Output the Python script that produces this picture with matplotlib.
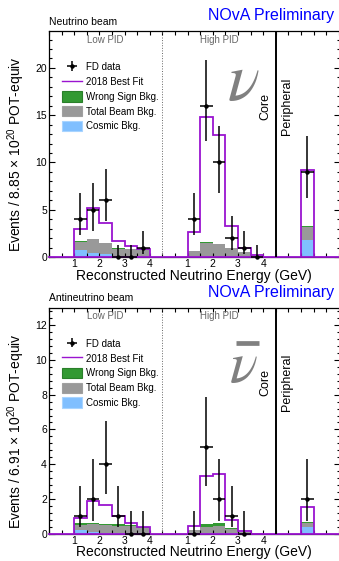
import numpy as np
import matplotlib
matplotlib.use("Agg")
import matplotlib.pyplot as plt
from matplotlib.lines import Line2D
from matplotlib.patches import Patch
from matplotlib.ticker import MultipleLocator

plt.rcParams['font.family'] = ['Liberation Sans', 'DejaVu Sans']
plt.rcParams['mathtext.fontset'] = 'custom'
plt.rcParams['mathtext.rm'] = 'Liberation Sans'
plt.rcParams['mathtext.it'] = 'Liberation Sans:italic'

# reconstructed energy bins (GeV), same for low and high PID
energy_edges = np.array([1.0, 1.5, 2.0, 2.5, 3.0, 3.5, 4.0])
tick_energies = [1, 2, 3, 4]
periph_edges = np.array([10.0, 10.5])

# ---- neutrino beam ----
nu_low_fit = [3.0, 5.2, 3.6, 1.65, 1.12, 0.86]
nu_low_data = [4, 5, 6, 0, 0, 1]
nu_low_up = [6.8, 7.8, 9.3, 1.3, 1.3, 2.8]
nu_low_dn = [2.3, 2.7, 3.8, 0.0, 0.0, 0.35]
nu_low_cos = [0.70, 0.42, 0.32, 0.05, 0.03, 0.02]
nu_low_beam = [0.89, 1.45, 1.13, 0.83, 0.77, 0.76]
nu_low_ws = [0.05, 0.05, 0.04, 0.04, 0.03, 0.03]

nu_high_fit = [2.6, 14.8, 12.9, 3.3, 0.9, 0.2]
nu_high_data = [4, 16, 10, 2, 1, 0]
nu_high_up = [6.8, 20.8, 13.9, 4.3, 2.8, 1.3]
nu_high_dn = [2.3, 12.3, 6.8, 0.7, 0.35, 0.0]
nu_high_cos = [0.05, 0.03, 0.02, 0.02, 0.01, 0.0]
nu_high_beam = [0.55, 1.44, 1.33, 0.93, 0.50, 0.10]
nu_high_ws = [0.04, 0.08, 0.07, 0.04, 0.02, 0.0]

nu_per_fit = [9.25]
nu_per_data = [9]
nu_per_up = [12.8]
nu_per_dn = [6.2]
nu_per_cos = [1.77]
nu_per_beam = [1.41]
nu_per_ws = [0.07]

# ---- antineutrino beam ----
anu_low_fit = [0.88, 1.85, 1.67, 1.0, 0.63, 0.35]
anu_low_data = [1, 2, 4, 1, 0, 0]
anu_low_up = [2.75, 4.3, 6.5, 2.75, 1.3, 1.3]
anu_low_dn = [0.37, 0.7, 2.3, 0.37, 0.0, 0.0]
anu_low_cos = [0.20, 0.07, 0.03, 0.02, 0.02, 0.01]
anu_low_beam = [0.30, 0.45, 0.44, 0.43, 0.40, 0.32]
anu_low_ws = [0.10, 0.10, 0.10, 0.08, 0.08, 0.03]

anu_high_fit = [0.42, 3.32, 3.44, 0.79, 0.15, 0.0]
anu_high_data = [0, 5, 2, 1, 0]
anu_high_up = [1.3, 7.86, 4.3, 2.75, 1.3]
anu_high_dn = [0.0, 2.73, 0.7, 0.37, 0.0]
anu_high_cos = [0.05, 0.02, 0.02, 0.01, 0.0, 0.0]
anu_high_beam = [0.14, 0.36, 0.40, 0.24, 0.08, 0.0]
anu_high_ws = [0.03, 0.14, 0.16, 0.07, 0.02, 0.0]

anu_per_fit = [1.54]
anu_per_data = [2]
anu_per_up = [4.3]
anu_per_dn = [0.7]
anu_per_cos = [0.35]
anu_per_beam = [0.25]
anu_per_ws = [0.06]

HIGH_OFFSET = 4.5  # high PID block shifted right on the axis
C_FIT = '#9a14d0'
C_WS = '#339933'
C_BEAM = '#999999'
C_COS = '#80bfff'
C_NU = '#808080'


def draw_section(ax, edges, fit, data, up, dn, cos, beam, ws):
    c = np.array(cos)
    b = c + np.array(beam)
    w = b + np.array(ws)
    ax.stairs(c, edges, baseline=0, fill=True, color=C_COS, lw=0, zorder=1)
    ax.stairs(b, edges, baseline=c, fill=True, color=C_BEAM, lw=0, zorder=1)
    ax.stairs(w, edges, baseline=b, fill=True, color=C_WS, lw=0, zorder=1)
    ax.stairs(fit, edges, baseline=0, color=C_FIT, lw=1.3, zorder=2)
    centers = 0.5 * (edges[:-1] + edges[1:])[:len(data)]
    d = np.array(data, dtype=float)
    yerr = [d - np.array(dn), np.array(up) - d]
    eb = ax.errorbar(centers, d, yerr=yerr, xerr=0.25, fmt='o', ms=2.2,
                     color='black', elinewidth=1.1, capsize=0, zorder=4,
                     clip_on=False)
    return eb


def draw_panel(ax, sections, ymax, ymajor, yminor, beam_label, ylabel, bar):
    eb = None
    for s in sections:
        r = draw_section(ax, *s)
        if eb is None:
            eb = r
    ax.axhline(0, color=C_FIT, lw=1.3, zorder=3, clip_on=False)
    ax.axvline(HIGH_OFFSET, color='#666666', lw=0.7, ls=':', zorder=3)
    ax.axvline(9.0, color='black', lw=1.4, zorder=3)

    ax.set_xlim(0, 11.55)
    ax.set_ylim(0, ymax)
    xt = list(tick_energies) + [e + HIGH_OFFSET for e in tick_energies]
    ax.set_xticks(xt)
    ax.set_xticklabels([str(e) for e in tick_energies] * 2)
    ax.xaxis.set_minor_locator(MultipleLocator(0.5))
    ax.yaxis.set_major_locator(MultipleLocator(ymajor))
    ax.yaxis.set_minor_locator(MultipleLocator(yminor))
    ax.tick_params(which='both', direction='in', top=True, right=True,
                   labelsize=7.5, width=0.8)
    ax.tick_params(axis='y', which='major', length=4.5, pad=1.5)
    ax.tick_params(axis='y', which='minor', length=2.2)
    ax.tick_params(axis='x', which='both', length=3, pad=1.5)
    for sp in ax.spines.values():
        sp.set_linewidth(0.9)

    ax.text(0.192, 0.962, 'Low PID', transform=ax.transAxes, ha='center',
            va='center', fontsize=7, color='#666666')
    ax.text(0.584, 0.962, 'High PID', transform=ax.transAxes, ha='center',
            va='center', fontsize=7, color='#666666')
    ax.text(0.745, 0.667, 'Core', transform=ax.transAxes, rotation=90,
            ha='center', va='center', fontsize=9)
    ax.text(0.817, 0.667, 'Peripheral', transform=ax.transAxes, rotation=90,
            ha='center', va='center', fontsize=9)
    ax.text(0.0, 1.04, beam_label, transform=ax.transAxes, ha='left',
            va='center', fontsize=7.5)
    ax.text(0.979, 1.068, 'NOvA Preliminary', transform=ax.transAxes,
            ha='right', va='center', fontsize=11.5, color='blue')
    ax.text(0.497, -0.101, 'Reconstructed Neutrino Energy (GeV)',
            transform=ax.transAxes, ha='center', va='baseline', fontsize=10)
    ax.text(-0.096, 0.455, ylabel, transform=ax.transAxes, rotation=90,
            rotation_mode='anchor', ha='center', va='baseline', fontsize=10)

    if bar:
        ax.text(0.668, 0.736, r'$\nu$', transform=ax.transAxes, ha='center',
                va='center', fontsize=42, color=C_NU, math_fontfamily='stix')
        ax.plot([0.643, 0.722], [0.842, 0.842], transform=ax.transAxes,
                color=C_NU, lw=3.4, solid_capstyle='butt')
    else:
        ax.text(0.668, 0.77, r'$\nu$', transform=ax.transAxes, ha='center',
                va='center', fontsize=48, color=C_NU, math_fontfamily='stix')

    handles = [
        eb,
        Line2D([], [], color=C_FIT, lw=1.0),
        Patch(facecolor=C_WS, edgecolor='#2a7f2a', lw=0.8),
        Patch(facecolor=C_BEAM, edgecolor='#a0a0a0', lw=0.8),
        Patch(facecolor=C_COS, edgecolor='#a8d4ff', lw=0.8),
    ]
    labels = ['FD data', '2018 Best Fit', 'Wrong Sign Bkg.',
              'Total Beam Bkg.', 'Cosmic Bkg.']
    ax.legend(handles, labels, loc='upper left',
              bbox_to_anchor=(0.0459, 0.8637), frameon=False, fontsize=7,
              handlelength=2.0, handleheight=1.27, labelspacing=0.44,
              handletextpad=0.4, borderpad=0, borderaxespad=0)


fig = plt.figure(figsize=(3.39, 5.61), dpi=100)
ax_top = fig.add_axes([49 / 339, (561 - 257) / 561, 291 / 339, 226 / 561])
ax_bot = fig.add_axes([49 / 339, (561 - 533.5) / 561, 291 / 339, 226 / 561])

nu_sections = [
    (energy_edges, nu_low_fit, nu_low_data, nu_low_up, nu_low_dn,
     nu_low_cos, nu_low_beam, nu_low_ws),
    (energy_edges + HIGH_OFFSET, nu_high_fit, nu_high_data, nu_high_up,
     nu_high_dn, nu_high_cos, nu_high_beam, nu_high_ws),
    (periph_edges, nu_per_fit, nu_per_data, nu_per_up, nu_per_dn,
     nu_per_cos, nu_per_beam, nu_per_ws),
]
anu_sections = [
    (energy_edges, anu_low_fit, anu_low_data, anu_low_up, anu_low_dn,
     anu_low_cos, anu_low_beam, anu_low_ws),
    (energy_edges + HIGH_OFFSET, anu_high_fit, anu_high_data, anu_high_up,
     anu_high_dn, anu_high_cos, anu_high_beam, anu_high_ws),
    (periph_edges, anu_per_fit, anu_per_data, anu_per_up, anu_per_dn,
     anu_per_cos, anu_per_beam, anu_per_ws),
]

draw_panel(ax_top, nu_sections, 23.9, 5, 1, 'Neutrino beam',
           'Events / 8.85 \u00d7 10$^{20}$ POT-equiv', bar=False)
draw_panel(ax_bot, anu_sections, 13.03, 2, 0.4, 'Antineutrino beam',
           'Events / 6.91 \u00d7 10$^{20}$ POT-equiv', bar=True)

fig.savefig('out.png', dpi=100)
